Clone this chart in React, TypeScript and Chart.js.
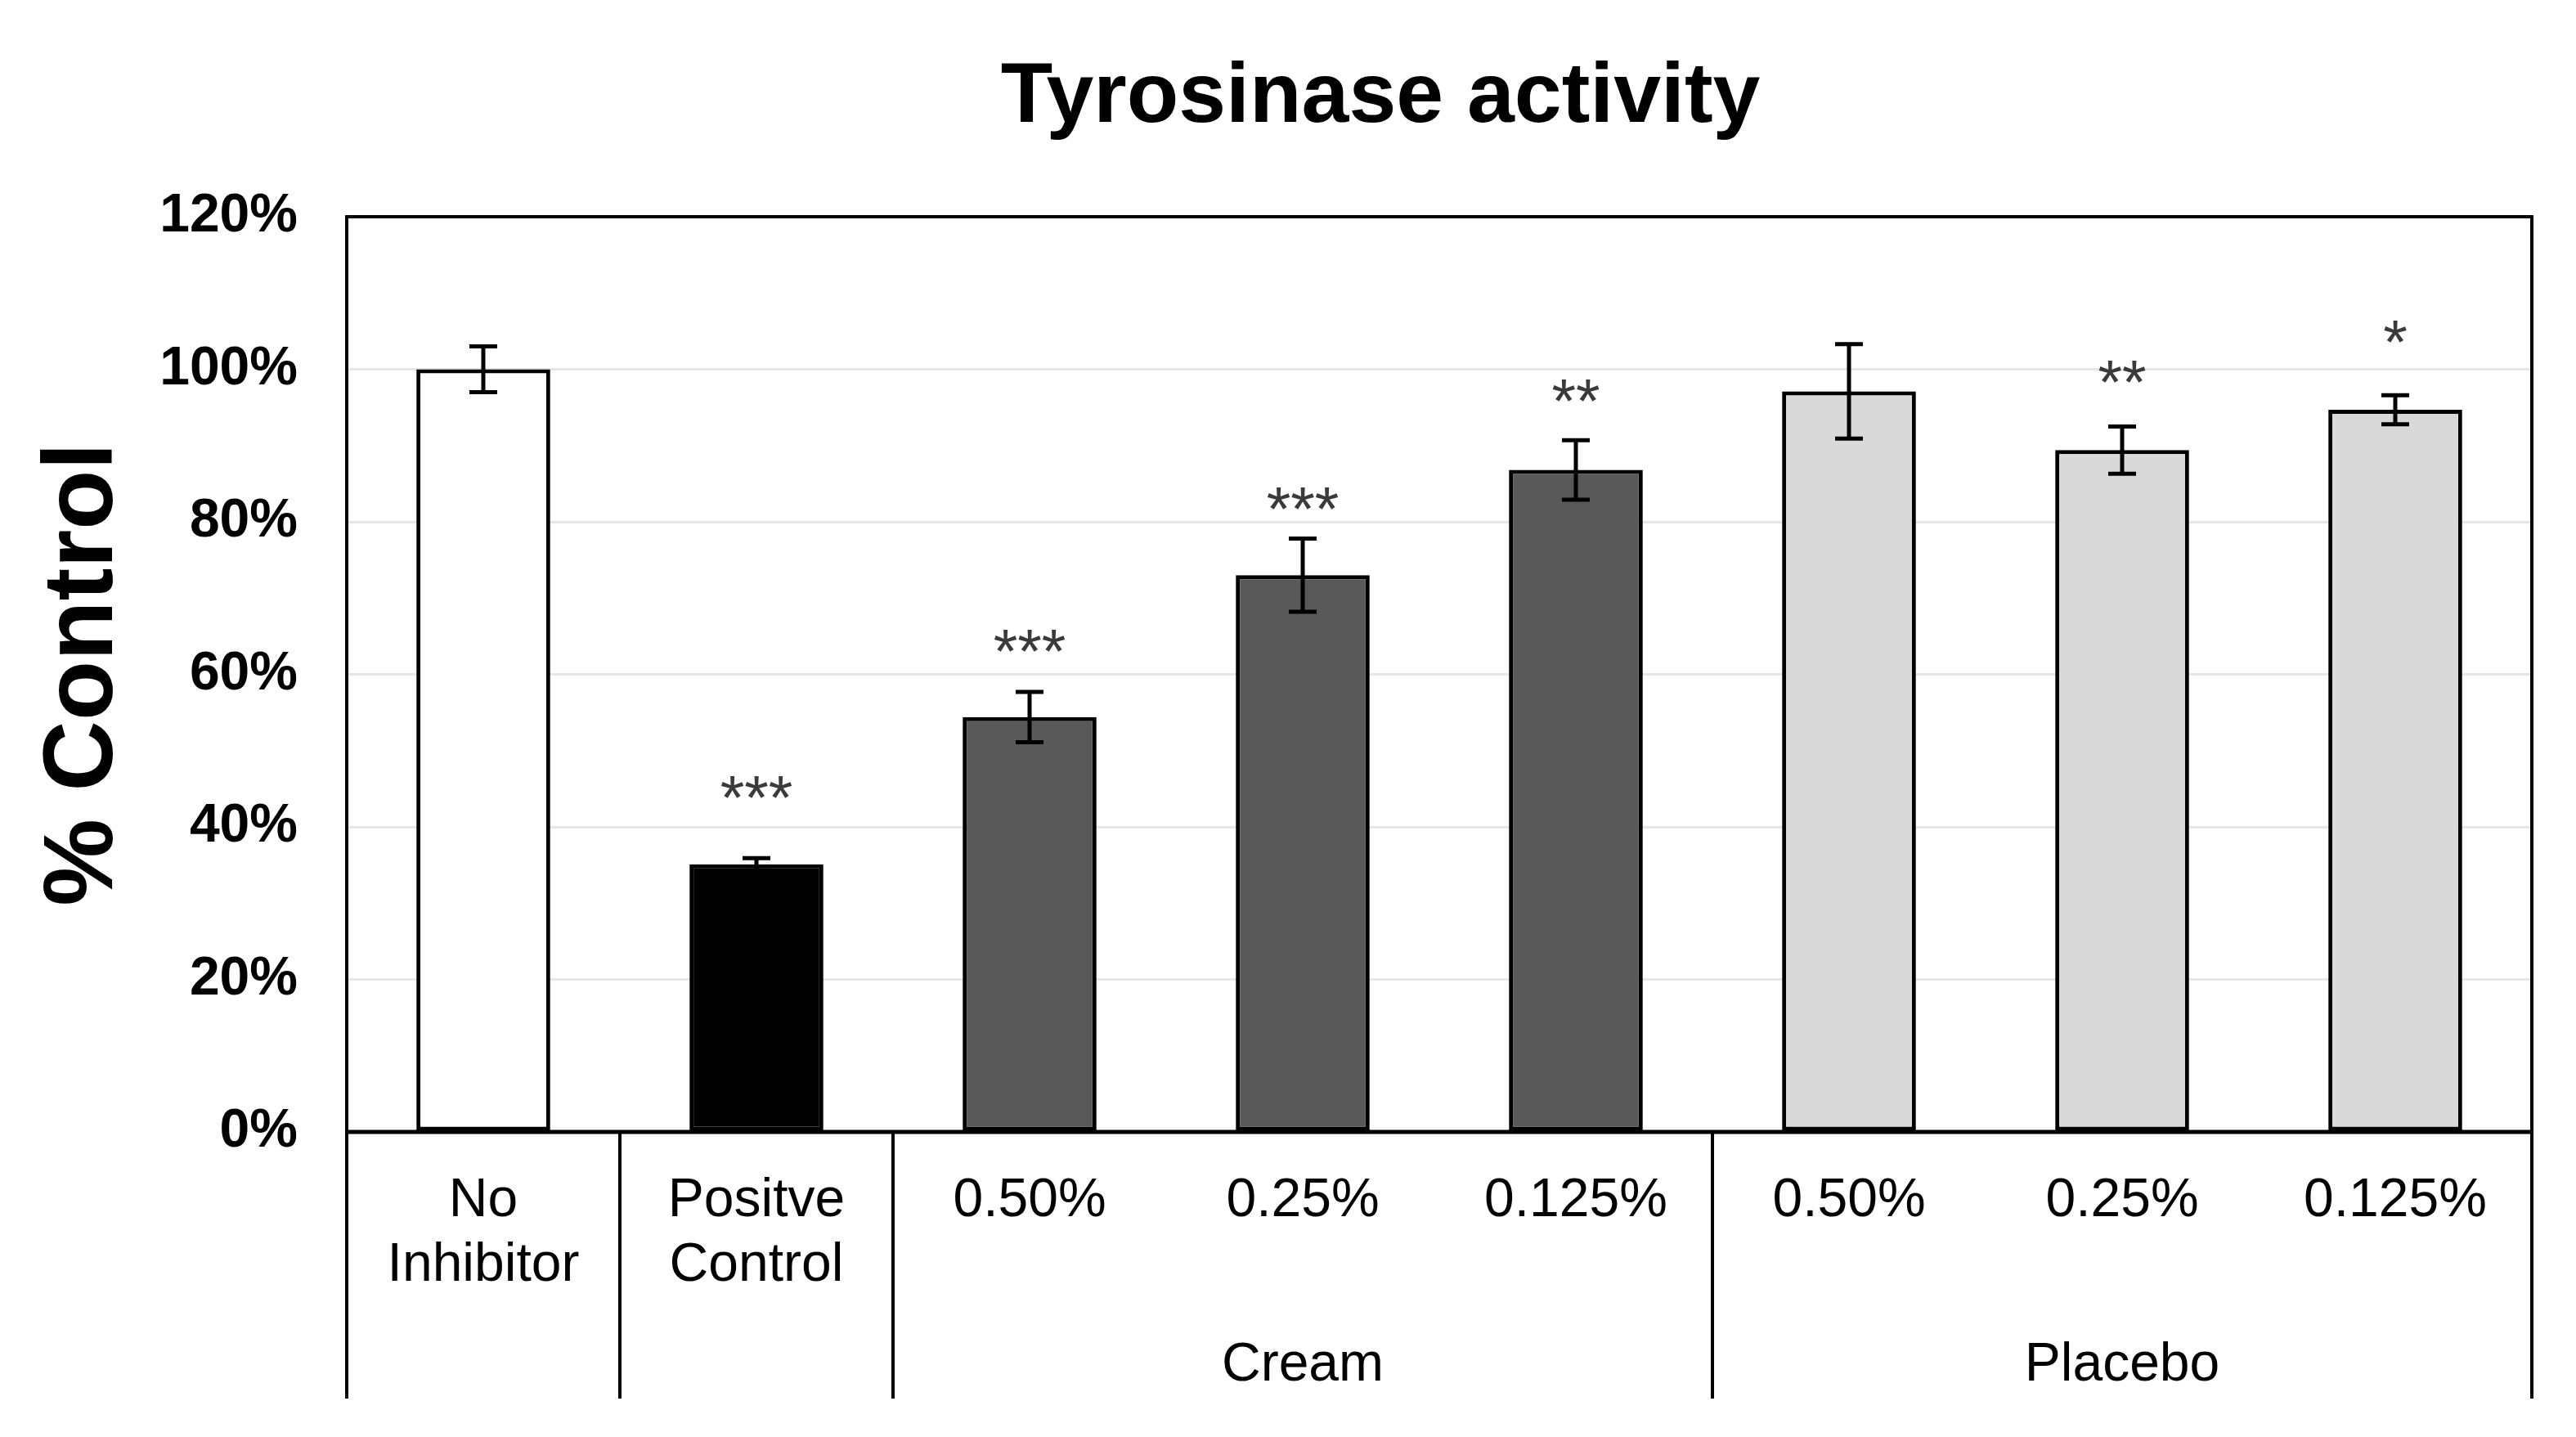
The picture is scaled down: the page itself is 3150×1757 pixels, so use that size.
import React, { useEffect, useRef } from "react";
import { Chart, registerables } from "chart.js";

Chart.register(...registerables);

// ---------- data ----------
const chartTitle = "Tyrosinase activity";
const yAxisTitle = "% Control";
const categories: string[][] = [
  ["No", "Inhibitor"],
  ["Positve", "Control"],
  ["0.50%"],
  ["0.25%"],
  ["0.125%"],
  ["0.50%"],
  ["0.25%"],
  ["0.125%"],
];
const values = [100, 35.1, 54.4, 73.0, 86.8, 97.1, 89.4, 94.7];
const errors = [3.0, 0.8, 3.3, 4.8, 3.9, 6.2, 3.1, 1.9];
const barColors = ["#ffffff", "#000000", "#595959", "#595959", "#595959", "#d9d9d9", "#d9d9d9", "#d9d9d9"];
const significance = ["", "***", "***", "***", "**", "", "**", "*"];
const significanceLevels: (number | null)[] = [null, 45.6, 64.8, 83.4, 97.6, null, 100.0, 105.3];
const groupNames = ["Cream", "Placebo"];
const groupStarts = [2, 5];
const groupEnds = [4, 7];
const separatorBoundaries = [0, 1, 2, 5, 8];
const yMin = 0;
const yMax = 120;
const yStep = 20;

const FONT = "'Liberation Sans', Arial, Helvetica, sans-serif";
const W = 3134;
const H = 1741;

const overlayPlugin = {
  id: "overlay",
  afterDatasetsDraw(chart: any) {
    const { ctx, chartArea } = chart;
    const xs = chart.scales.x;
    const ys = chart.scales.y;
    const meta = chart.getDatasetMeta(0);
    ctx.save();
    // error bars
    ctx.strokeStyle = "#000";
    ctx.lineWidth = 5;
    ctx.lineCap = "butt";
    values.forEach((v, i) => {
      const x = meta.data[i].x;
      const yt = ys.getPixelForValue(v + errors[i]);
      const yb = ys.getPixelForValue(v - errors[i]);
      ctx.beginPath();
      ctx.moveTo(x, yt);
      ctx.lineTo(x, yb);
      ctx.moveTo(x - 17, yt);
      ctx.lineTo(x + 17, yt);
      ctx.moveTo(x - 17, yb);
      ctx.lineTo(x + 17, yb);
      ctx.stroke();
    });
    // significance stars
    ctx.fillStyle = "#3a3a3a";
    ctx.font = `76px ${FONT}`;
    ctx.textAlign = "center";
    ctx.textBaseline = "alphabetic";
    significance.forEach((s, i) => {
      const lvl = significanceLevels[i];
      if (!s || lvl === null) return;
      const x = meta.data[i].x;
      const y = ys.getPixelForValue(lvl) + 0.55 * 76;
      ctx.fillText(s, x, y);
    });
    // plot box
    ctx.strokeStyle = "#000";
    ctx.lineWidth = 4;
    ctx.strokeRect(chartArea.left, chartArea.top, chartArea.right - chartArea.left, chartArea.bottom - chartArea.top);
    ctx.lineWidth = 5;
    ctx.beginPath();
    ctx.moveTo(chartArea.left, chartArea.bottom);
    ctx.lineTo(chartArea.right, chartArea.bottom);
    ctx.stroke();
    // category separators below axis
    const half = (xs.getPixelForValue(1) - xs.getPixelForValue(0)) / 2;
    ctx.lineWidth = 4;
    separatorBoundaries.forEach((b) => {
      const x = b < categories.length ? xs.getPixelForValue(b) - half : xs.getPixelForValue(categories.length - 1) + half;
      ctx.beginPath();
      ctx.moveTo(x, chartArea.bottom);
      ctx.lineTo(x, chartArea.bottom + 326);
      ctx.stroke();
    });
    // group labels
    ctx.fillStyle = "#000";
    ctx.font = `66px ${FONT}`;
    ctx.textAlign = "center";
    ctx.textBaseline = "middle";
    groupNames.forEach((g, k) => {
      const x = (xs.getPixelForValue(groupStarts[k]) + xs.getPixelForValue(groupEnds[k])) / 2;
      ctx.fillText(g, x, chartArea.bottom + 286);
    });
    // chart title
    ctx.font = `bold 104px ${FONT}`;
    ctx.textBaseline = "alphabetic";
    ctx.fillText(chartTitle, 1680, 141);
    ctx.restore();
  },
};

export default function App() {
  const ref = useRef<HTMLCanvasElement | null>(null);
  useEffect(() => {
    if (!ref.current) return;
    const chart = new Chart(ref.current, {
      type: "bar",
      data: {
        labels: categories,
        datasets: [
          {
            data: values,
            backgroundColor: barColors,
            borderColor: "#000",
            borderWidth: 5,
            borderSkipped: false,
            categoryPercentage: 1,
            barPercentage: 0.49,
          },
        ],
      },
      options: {
        animation: false,
        responsive: false,
        devicePixelRatio: 1,
        layout: { padding: { top: 257, left: 0, right: 46, bottom: 0 } },
        plugins: {
          legend: { display: false },
          tooltip: { enabled: false },
          title: { display: false },
        },
        scales: {
          x: {
            grid: { display: false, drawTicks: false },
            border: { display: false },
            ticks: {
              color: "#000",
              font: { family: FONT, size: 66, weight: "normal" },
              padding: 45,
              autoSkip: false,
              maxRotation: 0,
              minRotation: 0,
            },
            afterFit: (s: any) => {
              s.height = 365;
            },
          },
          y: {
            min: yMin,
            max: yMax,
            grid: { color: "#e6e6e6", lineWidth: 3, drawTicks: false },
            border: { display: false },
            ticks: {
              stepSize: yStep,
              color: "#000",
              font: { family: FONT, size: 66, weight: "bold" },
              padding: 60,
              callback: (v: any) => `${v}%`,
            },
            title: {
              display: true,
              text: yAxisTitle,
              color: "#000",
              font: { family: FONT, size: 120, weight: "bold" },
              padding: { top: 24, bottom: 0 },
            },
            afterFit: (s: any) => {
              s.width = 416;
            },
          },
        },
      },
      plugins: [overlayPlugin],
    });
    return () => chart.destroy();
  }, []);
  return (
    <div style={{ width: W, height: H }}>
      <canvas ref={ref} width={W} height={H} style={{ width: W, height: H, display: "block" }} />
    </div>
  );
}
